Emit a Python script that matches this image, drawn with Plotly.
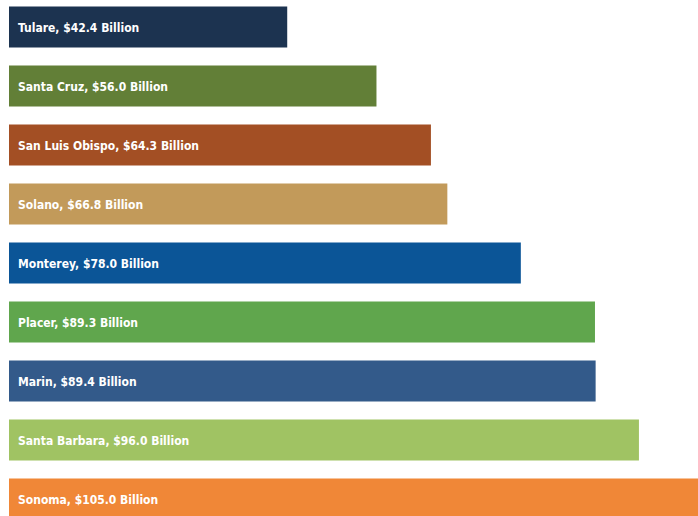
import plotly.graph_objects as go

counties = ["Tulare", "Santa Cruz", "San Luis Obispo", "Solano", "Monterey",
            "Placer", "Marin", "Santa Barbara", "Sonoma"]
values = [42.4, 56.0, 64.3, 66.8, 78.0, 89.3, 89.4, 96.0, 105.0]
colors = ["#1c3350", "#627f37", "#a34f24", "#c29a5a", "#0b5597",
          "#60a64d", "#335a8a", "#a0c363", "#f08737"]

labels = [f"{c}, ${v:.1f} Billion" for c, v in zip(counties, values)]

fig = go.Figure(go.Bar(
    x=values, y=counties, orientation="h",
    marker=dict(color=colors, line=dict(width=0)),
    width=0.695, hoverinfo="skip",
))

for c, lab in zip(counties, labels):
    fig.add_annotation(x=0, y=c, text=f"<b>{lab}</b>", showarrow=False, xanchor="left",
                       xshift=7, yshift=-1,
                       font=dict(family="DejaVu Sans Condensed, Liberation Sans Narrow, sans-serif",
                                 size=12, color="white"))

fig.update_layout(
    width=698, height=516,
    margin=dict(l=9, r=0, t=0, b=0),
    plot_bgcolor="white", paper_bgcolor="white",
    showlegend=False,
    xaxis=dict(range=[0, 105], visible=False),
    yaxis=dict(range=[8.29, -0.457], visible=False, type="category",
               categoryorder="array", categoryarray=counties),
)
fig.write_html("out.html")
